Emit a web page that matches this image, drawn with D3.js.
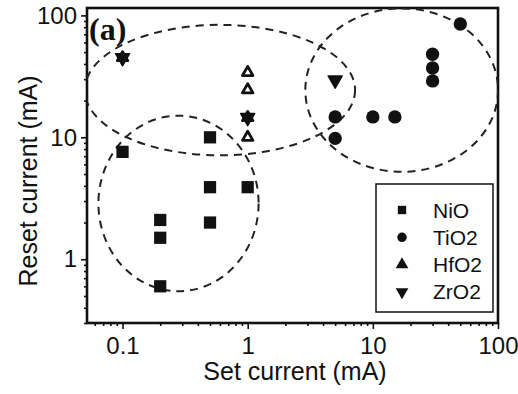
<!DOCTYPE html>
<html>
<head>
<meta charset="utf-8">
<script src="https://cdn.jsdelivr.net/npm/d3@7"></script>
<style>
  body { margin: 0; background: #fff; }
  svg { display: block; }
  text { font-family: "Liberation Sans", Arial, sans-serif; fill: #111; }
</style>
</head>
<body>
<svg width="518" height="394"></svg>
<script>
const width = 518;
const height = 394;
const svg = d3.select("svg");

// data (set current, reset current in mA)
const nioSet = [0.1, 0.2, 0.2, 0.2, 0.5, 0.5, 0.5, 1];
const nioReset = [7.6, 2.1, 1.5, 0.6, 10, 3.9, 2.0, 3.9];
const tio2Set = [5, 5, 10, 15, 30, 30, 30, 50];
const tio2Reset = [14.7, 9.8, 14.7, 14.7, 29, 37, 48, 85];
const hfo2Set = [0.1, 1, 1, 1, 1];
const hfo2Reset = [45, 34, 24.5, 14.5, 10];
const zro2Set = [0.1, 1, 5];
const zro2Reset = [45, 14.5, 29.5];

const legendNames = ["NiO", "TiO2", "HfO2", "ZrO2"];

// dashed groupings: centre in mA, half-widths in decades
const clusterCx = [0.6, 0.28, 17];
const clusterCy = [24.4, 2.87, 24.4];
const clusterRx = [1.08, 0.64, 0.77];
const clusterRy = [0.535, 0.72, 0.67];

const xTickVals = [0.1, 1, 10, 100];
const xTickLabels = ["0.1", "1", "10", "100"];
const yTickVals = [1, 10, 100];
const yTickLabels = ["1", "10", "100"];

const plotL = 87, plotR = 498, plotT = 8, plotB = 323;

const x = d3.scaleLog().domain([0.052, 100]).range([plotL, plotR]);
const y = d3.scaleLog().domain([0.3, 115]).range([plotB, plotT]);

function minorTicks(lo, hi) {
    const out = [];
    for (let d = 0.01; d < 1000; d *= 10) {
        for (let k = 2; k <= 9; k++) {
            const v = +(d * k).toPrecision(3);
            if (v >= lo && v <= hi) out.push(v);
        }
    }
    return out;
}

svg.append("clipPath").attr("id", "plotClip")
    .append("rect")
    .attr("x", plotL).attr("y", plotT)
    .attr("width", plotR - plotL).attr("height", plotB - plotT);

// axes
const fmtX = d => xTickLabels[xTickVals.indexOf(d)];
const fmtY = d => yTickLabels[yTickVals.indexOf(d)];

const gx = svg.append("g").attr("transform", `translate(0,${plotB})`);
gx.call(d3.axisBottom(x).tickValues(xTickVals).tickFormat(fmtX).tickSize(6).tickPadding(8));
gx.append("g").call(d3.axisBottom(x).tickValues(minorTicks(0.052, 100)).tickFormat("").tickSize(3));

const gy = svg.append("g").attr("transform", `translate(${plotL},0)`);
gy.call(d3.axisLeft(y).tickValues(yTickVals).tickFormat(fmtY).tickSize(6).tickPadding(4));
gy.append("g").call(d3.axisLeft(y).tickValues(minorTicks(0.3, 115)).tickFormat("").tickSize(3));

svg.selectAll(".domain").remove();
svg.selectAll(".tick line").attr("stroke", "#111").attr("stroke-width", 1.6);
svg.selectAll(".tick text")
    .style("font-family", '"Liberation Sans", Arial, sans-serif')
    .style("font-size", "24px")
    .attr("fill", "#111");

svg.append("rect")
    .attr("x", plotL).attr("y", plotT)
    .attr("width", plotR - plotL).attr("height", plotB - plotT)
    .attr("fill", "none")
    .attr("stroke", "#111")
    .attr("stroke-width", 2.6);

// dashed ellipses
const plot = svg.append("g").attr("clip-path", "url(#plotClip)");
plot.selectAll(".cluster")
    .data(clusterCx.map((c, i) => i))
    .enter()
    .append("ellipse")
    .attr("class", "cluster")
    .attr("cx", i => x(clusterCx[i]))
    .attr("cy", i => y(clusterCy[i]))
    .attr("rx", i => x(clusterCx[i] * Math.pow(10, clusterRx[i])) - x(clusterCx[i]))
    .attr("ry", i => y(clusterCy[i]) - y(clusterCy[i] * Math.pow(10, clusterRy[i])))
    .attr("fill", "none")
    .attr("stroke", "#222")
    .attr("stroke-width", 2)
    .attr("stroke-dasharray", "8,6");

// markers
function drawSeries(xs, ys, type, size, opts) {
    svg.append("g").selectAll("path")
        .data(xs.map((v, i) => [v, ys[i]]))
        .enter()
        .append("path")
        .attr("d", d3.symbol().type(type).size(size))
        .attr("transform", d => `translate(${x(d[0])},${y(d[1])})${opts.rotate ? " rotate(180)" : ""}`)
        .attr("fill", opts.fill)
        .attr("stroke", opts.stroke || "none")
        .attr("stroke-width", opts.strokeWidth || 0)
        .attr("stroke-linejoin", "round");
}

drawSeries(nioSet, nioReset, d3.symbolSquare, 150, { fill: "#111" });
drawSeries(tio2Set, tio2Reset, d3.symbolCircle, 140, { fill: "#111" });
drawSeries(hfo2Set, hfo2Reset, d3.symbolTriangle, 48, { fill: "#fff", stroke: "#111", strokeWidth: 2.8 });
drawSeries(zro2Set, zro2Reset, d3.symbolTriangle, 85, { fill: "#111", stroke: "#111", strokeWidth: 1.5, rotate: true });

// panel label
svg.append("text")
    .attr("x", 89).attr("y", 40)
    .style("font-family", '"Liberation Serif", "Times New Roman", serif')
    .style("font-weight", "bold")
    .style("font-size", "32px")
    .text("(a)");

// axis titles
svg.append("text")
    .attr("x", 295).attr("y", 380)
    .attr("text-anchor", "middle")
    .style("font-size", "25px")
    .text("Set current (mA)");

svg.append("text")
    .attr("transform", "translate(37,181) rotate(-90)")
    .attr("text-anchor", "middle")
    .style("font-size", "25px")
    .text("Reset current (mA)");

// legend
const legend = svg.append("g");
legend.append("rect")
    .attr("x", 376).attr("y", 184)
    .attr("width", 117).attr("height", 128)
    .attr("fill", "#fff")
    .attr("stroke", "#111")
    .attr("stroke-width", 1.5);

const legendTypes = [d3.symbolSquare, d3.symbolCircle, d3.symbolTriangle, d3.symbolTriangle];
const legendRows = legend.selectAll(".row")
    .data(legendNames)
    .enter()
    .append("g")
    .attr("class", "row")
    .attr("transform", (d, i) => `translate(402,${210 + i * 27.3})`);

legendRows.append("path")
    .attr("d", (d, i) => d3.symbol().type(legendTypes[i]).size(70)())
    .attr("transform", (d, i) => i === 3 ? "rotate(180)" : null)
    .attr("fill", "#111");

legendRows.append("text")
    .attr("x", 31)
    .attr("dy", "0.36em")
    .style("font-size", "21px")
    .text(d => d);
</script>
</body>
</html>
